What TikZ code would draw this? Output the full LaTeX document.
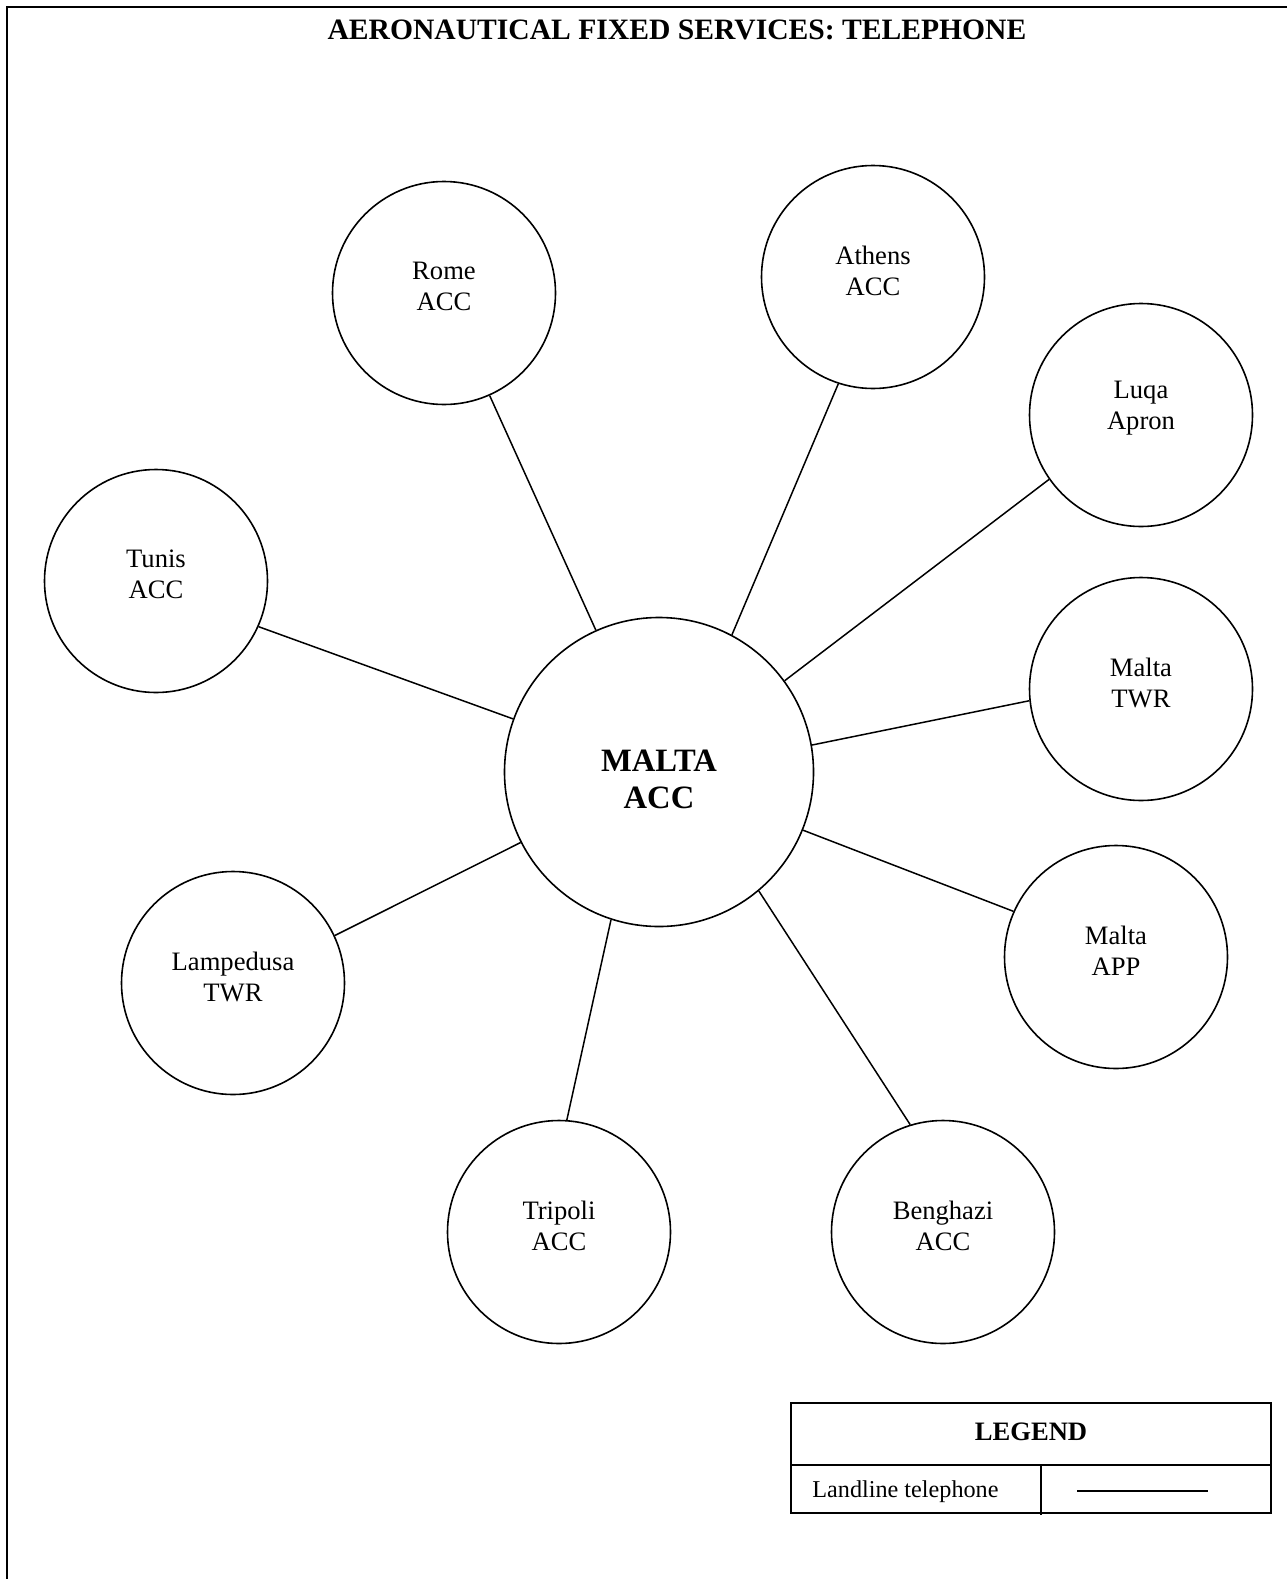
\documentclass[tikz,border=0pt]{standalone}
\usepackage{fontspec}
\setmainfont{Liberation Serif}

\tikzset{
  stn/.style={draw,circle,line width=0.8pt,minimum size=111.5pt,inner sep=0pt},
  hub/.style={draw,circle,line width=0.8pt,minimum size=154.5pt,inner sep=0pt,
    align=center,font=\fontsize{16.3}{18.6}\selectfont\bfseries},
  lbl/.style={align=center,font=\fontsize{13.3}{15.5}\selectfont},
  link/.style={line width=0.75pt}
}

\begin{document}
\begin{tikzpicture}[x=0.5pt,y=-0.5pt]
\useasboundingbox (0,0) rectangle (1287,1579);

% frame and title
\draw[line width=1pt] (7,1579) -- (7,7) -- (1287,7);
\node[font=\fontsize{14.8}{17}\selectfont\bfseries] (title) at (677,30) {AERONAUTICAL FIXED SERVICES: TELEPHONE};

% centre
\node[hub,label={[yshift=-3.5pt,align=center,font=\fontsize{16.3}{18.6}\selectfont\bfseries]center:MALTA\\ACC}] (acc) at (659,772) {};

% stations
\node[stn,label={[lbl,yshift=3.25pt]center:Rome\\ACC}] (rome) at (444,293) {};
\node[stn,label={[lbl,yshift=3.25pt]center:Athens\\ACC}] (athens) at (873,277) {};
\node[stn,label={[lbl,yshift=3.25pt]center:Luqa\\Apron}] (luqa) at (1141,415) {};
\node[stn,label={[lbl,yshift=3.25pt]center:Malta\\TWR}] (twr) at (1141,689) {};
\node[stn,label={[lbl,yshift=3.25pt]center:Malta\\APP}] (app) at (1116,957) {};
\node[stn,label={[lbl,yshift=3.25pt]center:Benghazi\\ACC}] (benghazi) at (943,1232) {};
\node[stn,label={[lbl,yshift=3.25pt]center:Tripoli\\ACC}] (tripoli) at (559,1232) {};
\node[stn,label={[lbl,yshift=3.25pt]center:Lampedusa\\TWR}] (lampedusa) at (233,983) {};
\node[stn,label={[lbl,yshift=3.25pt]center:Tunis\\ACC}] (tunis) at (156,581) {};

% telephone lines (hub angle / station angle)
\foreach \s/\a/\b in {rome/114.7/294.1, athens/62.8/252.5, luqa/36.6/215.1,
    twr/10.4/186.6, app/-22.9/156.8, benghazi/-50.8/107.5,
    tripoli/-108.4/86, lampedusa/207.4/25.2, tunis/160.7/336.3}
  \draw[link] (acc.\a) -- (\s.\b);

% legend
\draw[line width=0.9pt] (791,1403) rectangle (1271,1513);
\draw[line width=0.9pt] (791,1465) -- (1271,1465);
\draw[line width=0.9pt] (1041,1465) -- (1041,1515);
\node[font=\fontsize{13.3}{15}\selectfont\bfseries] (legendhd) at (1031,1432) {LEGEND};
\node[font=\fontsize{12.1}{14}\selectfont,anchor=west,inner sep=0pt] (legendtxt) at (812,1492) {Landline telephone};
\coordinate (tel-a) at (1077,1491);
\coordinate (tel-b) at (1208,1491);
\draw[link] (tel-a) -- (tel-b);
\end{tikzpicture}
\end{document}
